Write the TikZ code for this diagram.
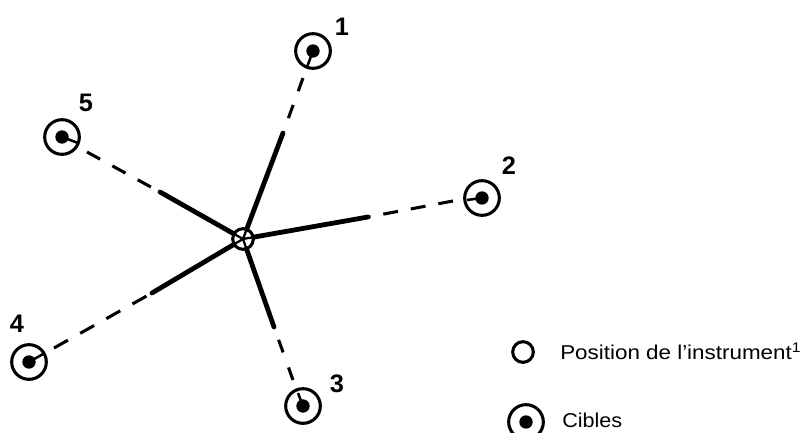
\documentclass[tikz,border=0pt]{standalone}
\usepackage{graphicx}
\usepackage{fontspec}
\setmainfont{Liberation Sans}
\tikzset{
  x=0.75pt,y=-0.75pt,
  target/.style={circle,draw=black,line width=2.3pt,minimum size=26pt,inner sep=0pt,outer sep=0pt},
  hub/.style={circle,draw=black,line width=2.3pt,minimum size=15.5pt,inner sep=0pt,outer sep=0pt},
  pin/.style={line width=1.9pt},
  dot/.style={circle,fill=black,minimum size=10pt,inner sep=0pt,outer sep=0pt},
  solidseg/.style={line width=3.6pt,line cap=round},
  thinseg/.style={line width=1.7pt},
  dashseg/.style={line width=2.3pt},
  num/.style={font=\bfseries\fontsize{19}{19}\selectfont,inner sep=0pt},
  lab/.style={font=\fontsize{15}{17}\selectfont,inner sep=0pt,anchor=west}
}
\begin{document}
\begin{tikzpicture}
\useasboundingbox (0,0) rectangle (802,432);
\clip (0,0) rectangle (802,432);
\node[hub] (c) at (243,239) {};
\foreach \n/\x/\y/\jx/\jy/\ex/\ey/\px/\py/\lx/\ly/\don/\doff in {
  1/313/51/283/133/303/78/307/67/342/27/10.5/11,
  2/482/198/368/217/453/201/467/200/509/166/11.2/9.8,
  3/303/406/274/327/293/380/298/393/337/384/10/12,
  4/29/362/152/293/54/348/43/354/17/324/12/10.5,
  5/62/137/160/192/87/152/78/143/86/103/11.2/10.5}{
  \node[target] (t\n) at (\x,\y) {};
  \node[dot] (d\n) at (\x,\y) {};
  \coordinate (j\n) at (\jx,\jy);
  \coordinate (e\n) at (\ex,\ey);
  \coordinate (p\n) at (\px,\py);
  \draw[thinseg] (c.center) -- (j\n);
  \draw[solidseg] (c) -- (j\n);
  \draw[dashseg,dash pattern=on \don pt off \doff pt] (e\n) -- (j\n);
  \draw[pin] (d\n.center) -- (p\n);
  \node[num] (n\n) at (\lx,\ly) {\n};
}
\node[hub] (k1) at (523,352) {};
\node[lab] (l1) at (560,351) {\scalebox{1.12}[1]{Position de l'instrument\textsuperscript{1}}};
\node[target] (k2) at (526,422) {};
\node[dot] (k2d) at (526,422) {};
\node[lab] (l2) at (562,420) {\scalebox{1.08}[1]{Cibles}};
\end{tikzpicture}
\end{document}
